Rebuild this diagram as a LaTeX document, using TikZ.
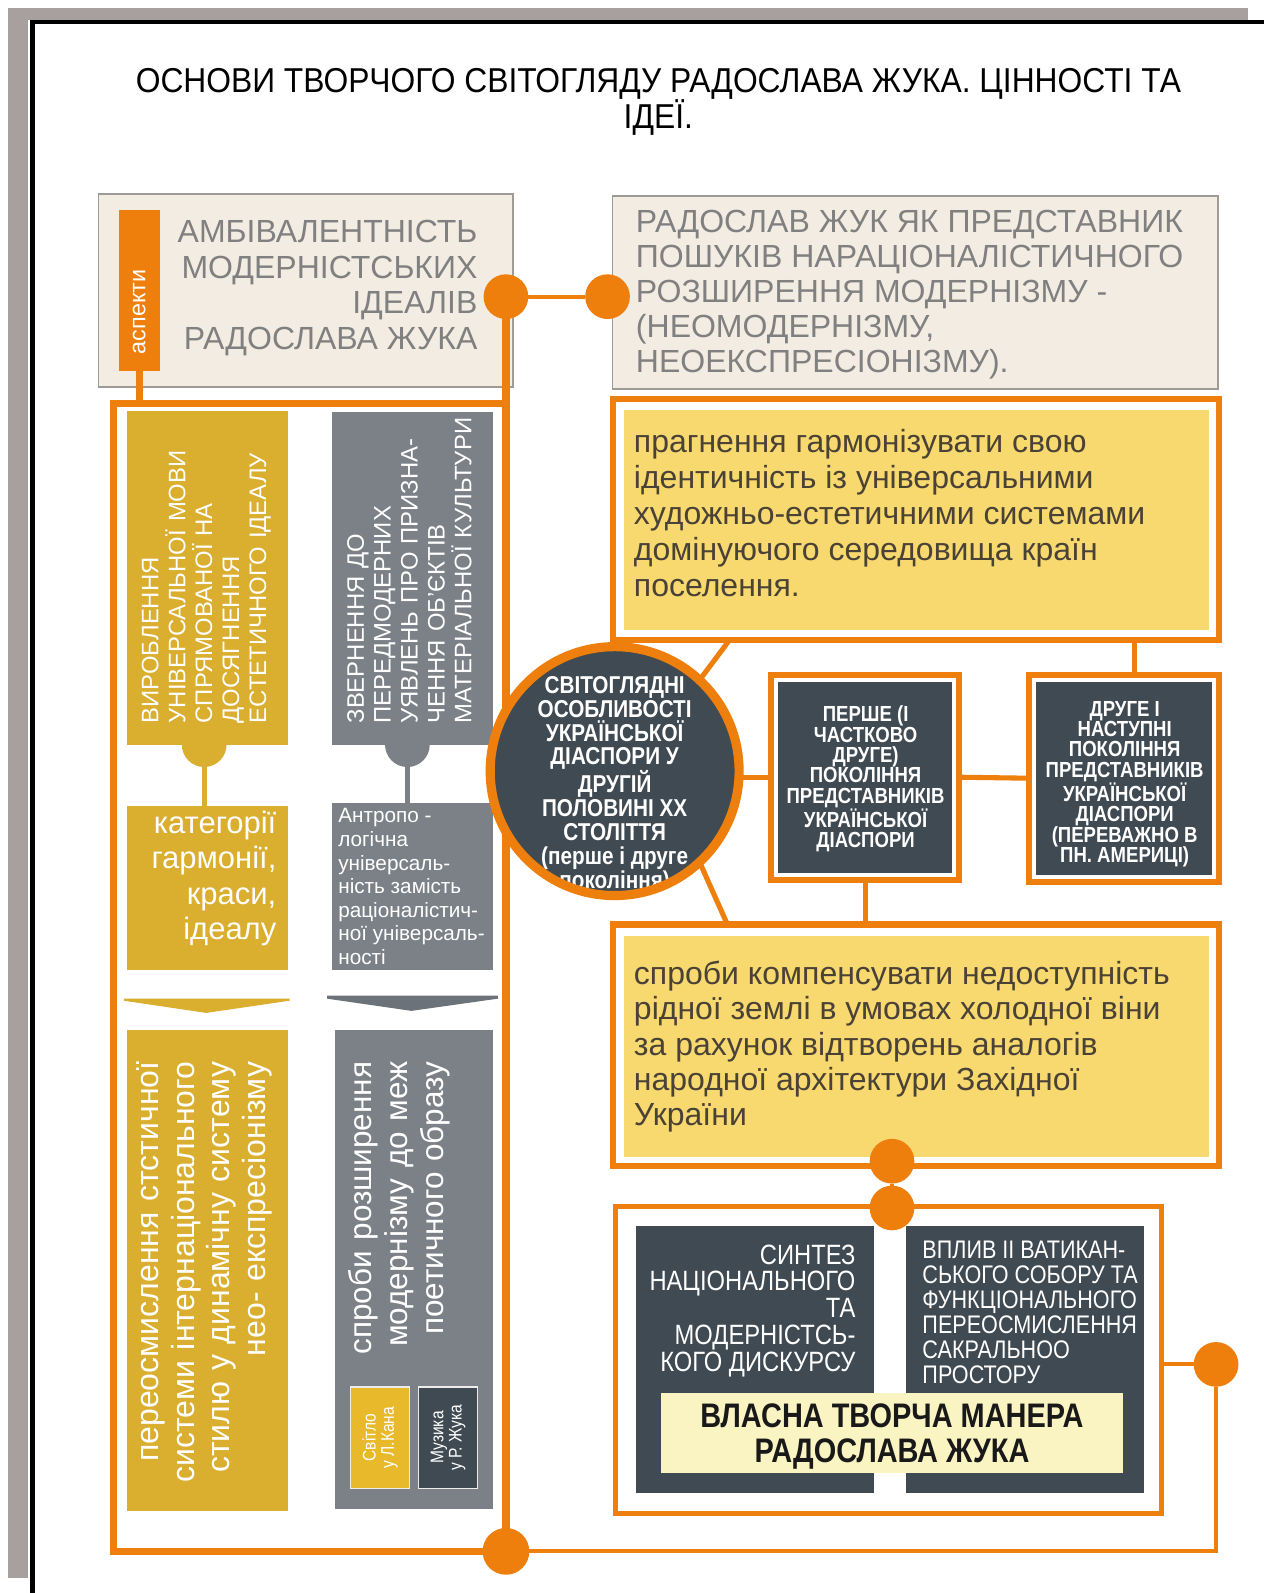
\documentclass[tikz,border=0pt]{standalone}
\usepackage{fontspec}
\setmainfont{Liberation Sans}
\setsansfont{Liberation Sans}
\newfontfamily\narrowfont[FakeStretch=0.85]{Liberation Sans}
\newfontfamily\titlefont[FakeStretch=0.92]{Liberation Sans}
\usetikzlibrary{calc}
\definecolor{orng}{RGB}{238,127,12}
\definecolor{beige}{RGB}{243,236,226}
\definecolor{beigeline}{RGB}{158,154,150}
\definecolor{greytext}{RGB}{128,128,128}
\definecolor{gold}{RGB}{218,174,46}
\definecolor{goldlight}{RGB}{232,185,42}
\definecolor{slate}{RGB}{124,129,136}
\definecolor{slatedark}{RGB}{108,114,121}
\definecolor{dark}{RGB}{64,74,82}
\definecolor{yel}{RGB}{247,217,111}
\definecolor{lightyel}{RGB}{250,243,194}
\definecolor{yeltext}{RGB}{74,66,54}
\definecolor{framegrey}{RGB}{168,160,159}
\newcommand\myfs[2]{\fontsize{#1}{#2}\selectfont}
\tikzset{
  box/.style={rectangle, inner sep=0, outer sep=0, anchor=north west},
  txt/.style={inner sep=0, outer sep=0},
  dot/.style={circle, fill=orng, minimum size=44, inner sep=0, outer sep=0},
  thinconn/.style={draw=orng, line width=4},
  conn/.style={draw=orng, line width=5},
}
\begin{document}
\begin{tikzpicture}[x=1pt,y=-1pt]
\useasboundingbox (0,0) rectangle (1244,1568);
\fill[white] (0,0) rectangle (1244,1568);
% page frame
\fill[framegrey] (8,8) rectangle (1228,20);
\fill[framegrey] (8,8) rectangle (28,1553);
\draw[black, line width=4] (32,1568) -- (32,22) -- (1244,22);

% title
\node[txt, anchor=north, align=center, font=\titlefont\myfs{34}{34}] (title) at (648,67)
  {ОСНОВИ ТВОРЧОГО СВІТОГЛЯДУ РАДОСЛАВА ЖУКА. ЦІННОСТІ ТА\\ІДЕЇ.};

% top beige boxes
\node[box, minimum width=408, minimum height=190, fill=beige, draw=beigeline, line width=1.5] (amb) at (97,191) {};
\node[box, minimum width=40, minimum height=158, fill=orng] (asp) at (117,207) {};
\node[txt, rotate=90, text=white, font=\myfs{23}{24}] (asptext) at (137,307) {аспекти};
\node[txt, anchor=north east, align=right, text=greytext, font=\myfs{31.5}{35}] (ambtext) at (470,217)
  {АМБІВАЛЕНТНІСТЬ\\МОДЕРНІСТСЬКИХ\\ІДЕАЛІВ\\РАДОСЛАВА ЖУКА};

\node[box, minimum width=596, minimum height=190, fill=beige, draw=beigeline, line width=1.5] (rep) at (603,193) {};
\node[txt, anchor=north west, align=left, text=greytext, font=\myfs{31.5}{34.5}] (reptext) at (626,207)
  {РАДОСЛАВ ЖУК ЯК ПРЕДСТАВНИК\\ПОШУКІВ НАРАЦІОНАЛІСТИЧНОГО\\РОЗШИРЕННЯ МОДЕРНІЗМУ -\\(НЕОМОДЕРНІЗМУ,\\НЕОЕКСПРЕСІОНІЗМУ).};

% big orange frame on the left
\node[box, minimum width=386, minimum height=1130, draw=orng, line width=7] (bigframe) at (112,397) {};
\draw[orng, line width=7] (asp.south) -- (asp.south |- bigframe.north);

% left column: gold / slate
\node[dot, fill=gold] (g1dot) at (201,733) {};
\node[dot, fill=slate] (s1dot) at (401,733) {};
\draw[gold, line width=5] (g1dot.center) -- (g1dot.center |- 0,793);
\draw[slate, line width=5] (s1dot.center) -- (s1dot.center |- 0,790);
\node[box, minimum width=158, minimum height=328, fill=gold] (g1) at (125,405) {};
\node[box, minimum width=158, minimum height=327, fill=slate] (s1) at (327,406) {};
\node[box, minimum width=158, minimum height=162, fill=gold] (g2) at (125,793) {};
\node[box, minimum width=158, minimum height=165, fill=slate] (s2) at (327,790) {};

\node[txt, rotate=90, text width=320, align=left, text=white, font=\myfs{23.5}{26.5}] (g1text) at (203,552)
  {ВИРОБЛЕННЯ\\УНІВЕРСАЛЬНОЇ МОВИ\\СПРЯМОВАНОЇ НА\\ДОСЯГНЕННЯ\\ЕСТЕТИЧНОГО ІДЕАЛУ};
\node[txt, rotate=90, text width=320, align=left, text=white, font=\myfs{23.5}{26.5}] (s1text) at (403,552)
  {ЗВЕРНЕННЯ ДО\\ПЕРЕДМОДЕРНИХ\\УЯВЛЕНЬ ПРО ПРИЗНА-\\ЧЕННЯ ОБ'ЄКТІВ\\МАТЕРІАЛЬНОЇ КУЛЬТУРИ};
\node[txt, anchor=north east, align=right, text=white, font=\myfs{30.5}{35}] (g2text) at (272,798)
  {категорії\\гармонії,\\краси,\\ідеалу};
\node[txt, anchor=north west, align=left, text=white, font=\myfs{20.4}{23.2}] (s2text) at (333,796)
  {Антропо -\\логічна\\універсаль-\\ність замість\\раціоналістич-\\ної універсаль-\\ності};

% chevrons
\fill[gold] (122,983) -- (285,983) -- (285,985) -- (203,997) -- (122,985) -- cycle;
\fill[slatedark] (322,980) -- (490,980) -- (490,983) -- (405,995) -- (322,983) -- cycle;

\node[box, minimum width=158, minimum height=473, fill=gold] (g3) at (125,1014) {};
\node[box, minimum width=155, minimum height=471, fill=slate] (s3) at (330,1014) {};
\node[txt, rotate=90, text width=440, align=right, text=white, font=\myfs{31.5}{35}] (g3text) at (201,1265)
  {переосмислення стстичної\\системи інтернаціонального\\стилю у динамічну систему\\нео- експресіонізму};
\node[txt, rotate=90, text width=320, align=right, text=white, font=\myfs{31}{35.5}] (s3text) at (393,1205)
  {спроби розширення\\модернізму до меж\\поетичного образу};
\node[box, minimum width=58, minimum height=100, fill=goldlight, draw=white!85!gray, line width=1.5] (kahn) at (345,1365) {};
\node[box, minimum width=58, minimum height=100, fill=dark, draw=white!85!gray, line width=1.5] (muz) at (412,1365) {};
\node[txt, rotate=90, align=center, text=white, font=\narrowfont\myfs{18}{18}] (kahntext) at (kahn.center) {Світло\\у Л.Кана};
\node[txt, rotate=90, align=center, text=white, font=\narrowfont\myfs{18}{18}] (muztext) at (muz.center) {Музика\\у Р. Жука};

% right side boxes
\node[box, minimum width=597, minimum height=237, draw=orng, line width=6] (yel1) at (603,393) {};
\node[box, minimum width=576, minimum height=216, fill=yel] (yel1in) at (614,404) {};
\node[txt, anchor=north west, align=left, text=yeltext, font=\myfs{31.5}{35.3}] (yel1text) at (624,423)
  {прагнення гармонізувати свою\\ідентичність із універсальними\\художньо-естетичними системами\\домінуючого середовища країн\\поселення.};

\node[box, minimum width=597, minimum height=238, draw=orng, line width=6] (yel2) at (603,910) {};
\node[box, minimum width=576, minimum height=218, fill=yel] (yel2in) at (614,921) {};
\node[txt, anchor=north west, align=left, text=yeltext, font=\myfs{31.5}{34.8}] (yel2text) at (624,946)
  {спроби компенсувати недоступність\\рідної землі в умовах холодної віни\\за рахунок відтворень аналогів\\народної архітектури Західної\\України};

\node[box, minimum width=185, minimum height=202, draw=orng, line width=6, fill=white] (b2) at (759,664) {};
\node[box, minimum width=171, minimum height=188, fill=dark] (b2in) at (766,671) {};
\node[txt, anchor=north, align=center, text=white, font=\narrowfont\bfseries\myfs{21.5}{20}] (b2text) at (852,695)
  {ПЕРШЕ (І\\ЧАСТКОВО\\ДРУГЕ)\\ПОКОЛІННЯ\\ПРЕДСТАВНИКІВ\\УКРАЇНСЬКОЇ\\ДІАСПОРИ};

\node[box, minimum width=187, minimum height=204, draw=orng, line width=6, fill=white] (b3) at (1013,664) {};
\node[box, minimum width=173, minimum height=190, fill=dark] (b3in) at (1020,671) {};
\node[txt, anchor=north, align=center, text=white, font=\narrowfont\bfseries\myfs{21.5}{20.1}] (b3text) at (1107,690)
  {ДРУГЕ І\\НАСТУПНІ\\ПОКОЛІННЯ\\ПРЕДСТАВНИКІВ\\УКРАЇНСЬКОЇ\\ДІАСПОРИ\\(ПЕРЕВАЖНО В\\ПН. АМЕРИЦІ)};

% circle
\node[circle, fill=dark, minimum size=245, inner sep=0] (circ) at (605,759) {};
\draw[conn] (circ.47) -- ($(yel1.south west)+(115,0)$);
\draw[conn] (circ.-47) -- ($(yel2.north west)+(113,0)$);
\draw[conn] (circ.east |- b2.west) -- (b2.west);
\draw[conn] (b2.east) -- (b3.west);
\coordinate (b3top) at ($(b3.north)+(10,0)$);
\draw[conn] (b3top) -- (b3top |- yel1.south);
\draw[conn] (b2.south) -- (b2.south |- yel2.north);
\node[txt, anchor=north, align=center, text=white, font=\narrowfont\bfseries\myfs{24}{23.4}] (circtext) at (605,666)
  {СВІТОГЛЯДНІ\\ОСОБЛИВОСТІ\\УКРАЇНСЬКОЇ\\ДІАСПОРИ У\\ДРУГІЙ\\ПОЛОВИНІ ХХ\\СТОЛІТТЯ\\(перше і друге\\покоління)};
\node[circle, draw=orng, line width=9, minimum size=245, inner sep=0] (ring) at (circ.center) {};

% bottom right box
\node[box, minimum width=537, minimum height=302, draw=orng, line width=5] (bot) at (606,1188) {};
\node[box, minimum width=234, minimum height=263, fill=dark] (synt) at (626,1207) {};
\node[box, minimum width=234, minimum height=263, fill=dark] (vat) at (892,1207) {};
\node[txt, anchor=north east, align=right, text=white, font=\narrowfont\myfs{27.5}{26.5}] (synttext) at (842,1225)
  {СИНТЕЗ\\НАЦІОНАЛЬНОГО\\ТА\\МОДЕРНІСТСЬ-\\КОГО ДИСКУРСУ};
\node[txt, anchor=north west, align=left, text=white, font=\narrowfont\myfs{25}{24.6}] (vattext) at (908,1222)
  {ВПЛИВ ІІ ВАТИКАН-\\СЬКОГО СОБОРУ ТА\\ФУНКЦІОНАЛЬНОГО\\ПЕРЕОСМИСЛЕННЯ\\САКРАЛЬНОО\\ПРОСТОРУ};
\node[box, minimum width=454, minimum height=79, fill=lightyel] (own) at (651,1371) {};
\node[txt, anchor=north, align=center, text=black!90, font=\narrowfont\bfseries\myfs{33.5}{34}] (owntext) at (878,1382)
  {ВЛАСНА ТВОРЧА МАНЕРА\\РАДОСЛАВА ЖУКА};

% dots and orange connectors
\node[dot] (ldot) at (498,292) {};
\node[dot] (rdot) at (598,292) {};
\draw[thinconn] (ldot) -- (rdot);
\draw[orng, line width=7] (ldot.center) -- (bigframe.north east);
\node[dot] (mdot1) at (878,1143) {};
\node[dot] (mdot2) at (878,1189) {};
\draw[thinconn] (mdot1) -- (mdot2);
\node[dot] (rrdot) at (1197,1343) {};
\node[dot, minimum width=42, minimum height=46] (bdot) at (498,1527) {};
\draw[thinconn] (rrdot.center -| bot.east) -- (rrdot);
\draw[thinconn] (rrdot) -- (rrdot.center |- bdot.center) -- (bdot);
\end{tikzpicture}
\end{document}
